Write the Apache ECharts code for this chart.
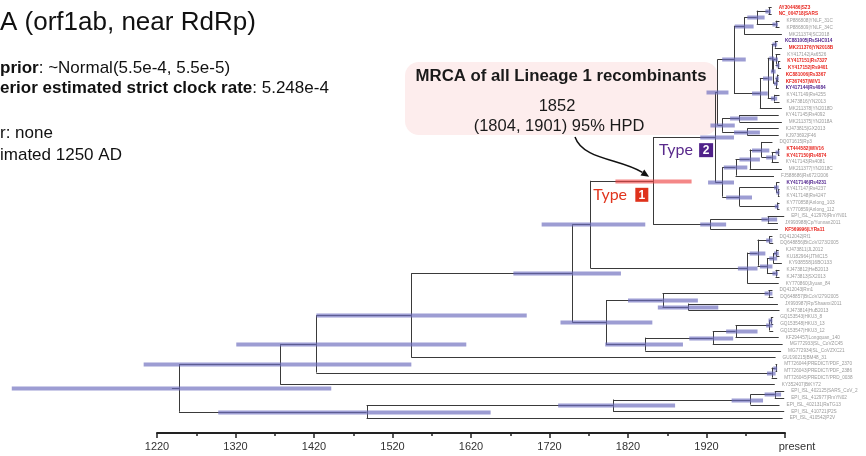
<!DOCTYPE html>
<html><head><meta charset="utf-8">
<script src="https://cdn.jsdelivr.net/npm/echarts@6/dist/echarts.min.js"></script>
<style>html,body{margin:0;padding:0;background:#fff}#c{width:866px;height:456px}</style>
</head><body><div id="c"></div>
<script>
// ---------- DATA ----------
const leafNames = [
 'AY304486|SZ3','NC_004718|SARS','KP886808|YNLF_31C','KP886809|YNLF_34C','MK211374|SC2018',
 'KC881005|RsSHC014','MK211376|YN2018B','KY417142|As6526','KY417151|Rs7327','KY417152|Rs9401',
 'KC881006|Rs3367','KF367457|WIV1','KY417144|Rs4084','KY417149|Rs4255','KJ473816|YN2013',
 'MK211378|YN2018D','KY417145|Rs4092','MK211375|YN2018A','KJ473815|GX2013','KJ973692|F46',
 'DQ071615|Rp3','KT444582|WIV16','KY417150|Rs4874','KY417143|Rs4081','MK211377|YN2018C',
 'FJ588686|Rs672/2006','KY417146|Rs4231','KY417147|Rs4237','KY417148|Rs4247','KY770858|Anlong_103',
 'KY770859|Anlong_112','EPI_ISL_412976|RmYN01','JX993988|Cp/Yunnan2011','KF569996|LYRa11','DQ412042|Rf1',
 'DQ648856|BtCoV/273/2005','KJ473811|JL2012','KU182964|JTMC15','KY938558|16BO133','KJ473812|HeB2013',
 'KJ473813|SX2013','KY770860|Jiyuan_84','DQ412043|Rm1','DQ648857|BtCoV/279/2005','JX993987|Rp/Shaanxi2011',
 'KJ473814|HuB2013','GQ153543|HKU3_8','GQ153548|HKU3_13','GQ153547|HKU3_12','KF294457|Longquan_140',
 'MG772933|SL_CoVZC45','MG772934|SL_CoVZXC21','GU190215|BM48_31','MT726044|PREDICT/PDF_2370','MT726043|PREDICT/PDF_2386',
 'MT726045|PREDICT/PRD_0038','KY352407|BtKY72','EPI_ISL_402125|SARS_CoV_2','EPI_ISL_412977|RmYN02','EPI_ISL_402131|RaTG13',
 'EPI_ISL_410721|P2S','EPI_ISL_410542|P2V'];
const leafYears = [2003,2003,2013,2013,2016,2011,2016,2014,2014,2015,
 2012,2012,2012,2013,2013,2016,2012,2016,2012,2012,
 2004,2013,2013,2012,2016,2006,2013,2013,2013,2013,
 2013,2019,2011,2011,2004,2005,2012,2013,2016,2013,
 2013,2012,2004,2005,2011,2013,2005,2005,2005,2012,
 2017,2015,2008,2010,2010,2010,2007,2019,2019,2013,
 2019,2017];
// 0 = grey, 1 = red (recombinant), 2 = purple
const leafGroups = [1,1,0,0,0,2,1,0,1,1, 1,1,2,0,0,0,0,0,0,0, 0,1,1,0,0,0,2,0,0,0,
 0,0,0,1,0,0,0,0,0,0, 0,0,0,0,0,0,0,0,0,0, 0,0,0,0,0,0,0,0,0,0, 0,0];

const nodeNames = ['n_sars','n_ynlf','n_s1','n_s2','n_r1','n_r2','n_r3','n_r4','n_r5','n_r6','n_r7','n_r8','n_r9','n_r10','n_I',
 'n_ii1','n_gf','n_ii','G1','n_w16','n_w2','n_w3','n_w4','n_III','n_a2','n_a1','n_an','n_IV','G2','G','n_rc','U','F',
 'n_h1','n_h2','n_h3','n_h4','n_h5','n_h6','H','E','J1','K','J','n_hk1','n_hk','N','M','L','I','D','C','n_p1','T','B','A',
 'S','R','Q','P','root'];
const nodeChildren = [[0,1],[2,3],['n_sars','n_ynlf'],['n_s1',4],[5,6],[8,9],[7,'n_r2'],[10,11],['n_r4',12],['n_r3','n_r5'],['n_r1','n_r6'],[13,14],['n_r7','n_r8'],['n_r9',15],['n_s2','n_r10'],
 [16,17],[18,19],['n_ii1','n_gf'],['n_I','n_ii'],[21,22],['n_w16',23],[20,'n_w2'],['n_w3',24],['n_w4',25],[27,28],[26,'n_a2'],[29,30],['n_a1','n_an'],['n_III','n_IV'],['G1','G2'],[31,32],['n_rc',33],['G','U'],
 [34,35],[36,37],['n_h2',38],[39,40],['n_h3','n_h4'],['n_h1','n_h5'],['n_h6',41],['F','H'],[42,43],[44,45],['J1','K'],[46,47],['n_hk1',48],['n_hk',49],['N',50],['M',51],['J','L'],['E','I'],['D',52],[53,54],['n_p1',55],['C','T'],['B',56],
 [57,58],['S',59],['R',60],['Q',61],['A','P']];
const nodeYears = [1999,2008,1984,1968,2007,2011,2008,2010,2008,2005,2003,2006,1998,1988,1955,
 1962,1972,1940,1934,2011,2003,1990,1975,1957,2011,2009,2010,1962,1940,1931,1998,1925,1852,
 2000,2009,2005,2008,1997,1985,1972,1772,1999,1897,1864,2002,2000,1957,1928,1842,1792,1749,1544,2008,2003,1423,1377,
 2007,1976,1801,1487,1248];
const nodeHpdLow = [1995,2004,1972,1956,2004,2009,2005,2008,2006,2002,2000,2002,1992,1978,1940,
 1950,1955,1925,1920,2008,1996,1978,1962,1942,2009,2006,2007,1945,1922,1912,1990,1912,1804,
 1996,2006,2000,2004,1988,1975,1960,1710,1994,1858,1820,1999,1996,1945,1898,1791,1734,1674,1423,2005,1997,1321,1203,
 1994,1952,1731,1298,1035];
const nodeHpdHigh = [2002,2011,1994,1980,2010,2013,2011,2012,2011,2008,2006,2010,2004,1998,1970,
 1985,1988,1956,1948,2013,2009,2000,1988,1972,2013,2012,2012,1978,1955,1955,2010,1945,1901,
 2004,2012,2010,2011,2004,1995,1985,1842,2004,1935,1909,2004,2004,1985,1954,1890,1851,1811,1691,2010,2008,1614,1544,
 2015,1992,1880,1645,1442];
const highlightNode = 'F';           // MRCA of all lineage 1 recombinants
const axisMin = 1220, axisMax = 2020, axisStep = 100;

// ---------- LAYOUT (tree geometry from data) ----------
const yOf = {}, xOf = {};
leafNames.forEach((n, i) => { yOf[i] = i; xOf[i] = leafYears[i]; });
nodeNames.forEach((n, k) => {
  const ys = nodeChildren[k].map(c => yOf[c]);
  yOf[n] = (Math.min(...ys) + Math.max(...ys)) / 2;
  xOf[n] = nodeYears[k];
});
const segs = [];
nodeNames.forEach((n, k) => {
  const ys = nodeChildren[k].map(c => yOf[c]);
  segs.push([xOf[n], Math.min(...ys), xOf[n], Math.max(...ys)]);
  nodeChildren[k].forEach(c => segs.push([xOf[n], yOf[c], xOf[c], yOf[c]]));
});
segs.push([xOf.root - 9, yOf.root, xOf.root, yOf.root]);
const hpd = nodeNames.map((n, k) => [nodeHpdLow[k], nodeHpdHigh[k], yOf[n], n === highlightNode ? 1 : 0]);
const tips = leafNames.map((n, i) => [leafYears[i], i, leafGroups[i]]);

const FONT = 'Liberation Sans, Arial, Helvetica, sans-serif';
const labelColor = ['#9a9a9a', '#e8261f', '#52268f'];

const chart = echarts.init(document.getElementById('c'), null, {renderer: 'canvas'});
chart.setOption({
  animation: false,
  backgroundColor: '#fff',
  grid: {left: 157, right: 81, top: 0, bottom: 23},
  xAxis: {
    type: 'value', min: axisMin, max: axisMax, interval: axisStep, position: 'bottom',
    splitLine: {show: false},
    axisLine: {onZero: false, lineStyle: {color: '#222', width: 2}},
    axisTick: {length: 5, lineStyle: {color: '#222', width: 1.5}},
    minorTick: {show: true, splitNumber: 2, length: 3, lineStyle: {color: '#222', width: 1.5}},
    axisLabel: {
      color: '#333', fontSize: 11, fontFamily: FONT, margin: 8,
      formatter: v => v === axisMax ? '{p|present}' : String(v),
      rich: {p: {fontSize: 11, fontFamily: FONT, color: '#333', padding: [0, 0, 0, 24]}}
    }
  },
  yAxis: {type: 'value', min: -1.08, max: 63.22, inverse: true, show: false},
  series: [
    {
      type: 'custom', name: 'branches', clip: false, data: segs,
      encode: {x: [0, 2], y: [1, 3]},
      renderItem(params, api) {
        const a = api.coord([api.value(0), api.value(1)]);
        const b = api.coord([api.value(2), api.value(3)]);
        if (a[1] === b[1]) { a[1] = b[1] = Math.round(a[1]) + 0.5; }
        if (a[0] === b[0]) { a[0] = b[0] = Math.round(a[0]) + 0.5; }
        return {type: 'line', shape: {x1: a[0], y1: a[1], x2: b[0], y2: b[1]},
          style: {stroke: '#3a3a3a', lineWidth: 1}};
      }
    },
    {
      type: 'custom', name: 'hpd', clip: false, data: hpd,
      encode: {x: [0, 1], y: 2},
      renderItem(params, api) {
        const a = api.coord([api.value(0), api.value(2)]);
        const b = api.coord([api.value(1), api.value(2)]);
        const y = Math.round(a[1]) + 0.5;
        return {type: 'line', shape: {x1: a[0], y1: y, x2: b[0], y2: y},
          style: {stroke: api.value(3) ? 'rgba(238,70,70,0.65)' : 'rgba(110,110,190,0.68)', lineWidth: 4}};
      }
    },
    {
      type: 'custom', name: 'tips', clip: false, data: tips,
      encode: {x: 0, y: 1},
      renderItem(params, api) {
        const p = api.coord([api.value(0), api.value(1)]);
        const g = api.value(2);
        return {type: 'text', x: p[0] + 7, y: p[1],
          style: {text: leafNames[api.value(1)], fill: labelColor[g],
            fontSize: 4.7, fontFamily: FONT, fontWeight: g ? 'bold' : 'normal',
            align: 'left', verticalAlign: 'middle'}};
      }
    }
  ]
});

// ---------- ANNOTATIONS ----------
const px = n => chart.convertToPixel({gridIndex: 0}, [xOf[n], yOf[n]]);
const pF = px('F'), pE = px('E'), pG = px('G');
const ax = pF[0] - 4, ay = pF[1] - 4;
const c2x = ax - 28, c2y = ay - 18;
const ang = Math.atan2(ay - c2y, ax - c2x);
const ah = 8, aw = 3.5;
const bx = ax - ah * Math.cos(ang), by = ay - ah * Math.sin(ang);
const txt = (x, y, text, size, color, extra) => Object.assign({
  type: 'text', x, y, style: Object.assign({text, fontSize: size, fontFamily: FONT, fill: color,
    align: 'left', verticalAlign: 'middle'}, extra || {})});
const TFONT = 'Lato, Liberation Sans, sans-serif';
chart.setOption({
  graphic: [
    txt(0, 23, 'A (orf1ab, near RdRp)', 26, '#111'),
    {type: 'text', x: 0, y: 68, style: {text: '{b|prior}{n|: ~Normal(5.5e-4, 5.5e-5)}', verticalAlign: 'middle',
      rich: {b: {fontSize: 17, fontFamily: FONT, fontWeight: 'bold', fill: '#111'}, n: {fontSize: 17, fontFamily: FONT, fill: '#111'}}}},
    {type: 'text', x: 0, y: 88, style: {text: '{b|erior estimated strict clock rate}{n|: 5.248e-4}', verticalAlign: 'middle',
      rich: {b: {fontSize: 17, fontFamily: FONT, fontWeight: 'bold', fill: '#111'}, n: {fontSize: 17, fontFamily: FONT, fill: '#111'}}}},
    txt(0, 133, 'r: none', 17, '#111'),
    txt(0, 155, 'imated 1250 AD', 17, '#111'),
    {type: 'rect', shape: {x: 405, y: 62, width: 313, height: 73, r: 14}, style: {fill: '#fdeded'}, z: 0},
    txt(561, 76, 'MRCA of all Lineage 1 recombinants', 16.8, '#1a1a1a', {align: 'center', fontWeight: 'bold'}),
    txt(557, 106, '1852', 16.5, '#1a1a1a', {align: 'center'}),
    txt(559, 126, '(1804, 1901) 95% HPD', 16.5, '#1a1a1a', {align: 'center'}),
    {type: 'bezierCurve', shape: {x1: 575, y1: 137, cpx1: 583, cpy1: 160, cpx2: c2x, cpy2: c2y, x2: bx, y2: by},
      style: {stroke: '#111', lineWidth: 1.5, fill: null}},
    {type: 'polygon', shape: {points: [[ax, ay],
      [bx + aw * Math.sin(ang), by - aw * Math.cos(ang)], [bx - aw * Math.sin(ang), by + aw * Math.cos(ang)]]},
      style: {fill: '#111'}},
    txt(pE[0] + 3, pF[1] + 14, 'Type', 16, '#e1361f', {fontFamily: TFONT}),
    {type: 'rect', shape: {x: pE[0] + 45, y: pF[1] + 7, width: 13, height: 14}, style: {fill: '#df321c'}},
    txt(pE[0] + 51.5, pF[1] + 14.5, '1', 12, '#fff', {align: 'center', fontWeight: 'bold'}),
    txt(pF[0] + 6, pG[1] + 13, 'Type', 16, '#5a2a8c', {fontFamily: TFONT}),
    {type: 'rect', shape: {x: pF[0] + 46, y: pG[1] + 6, width: 14, height: 14}, style: {fill: '#4f2189'}},
    txt(pF[0] + 53, pG[1] + 13.5, '2', 12, '#fff', {align: 'center', fontWeight: 'bold'})
  ]
});
</script></body></html>
